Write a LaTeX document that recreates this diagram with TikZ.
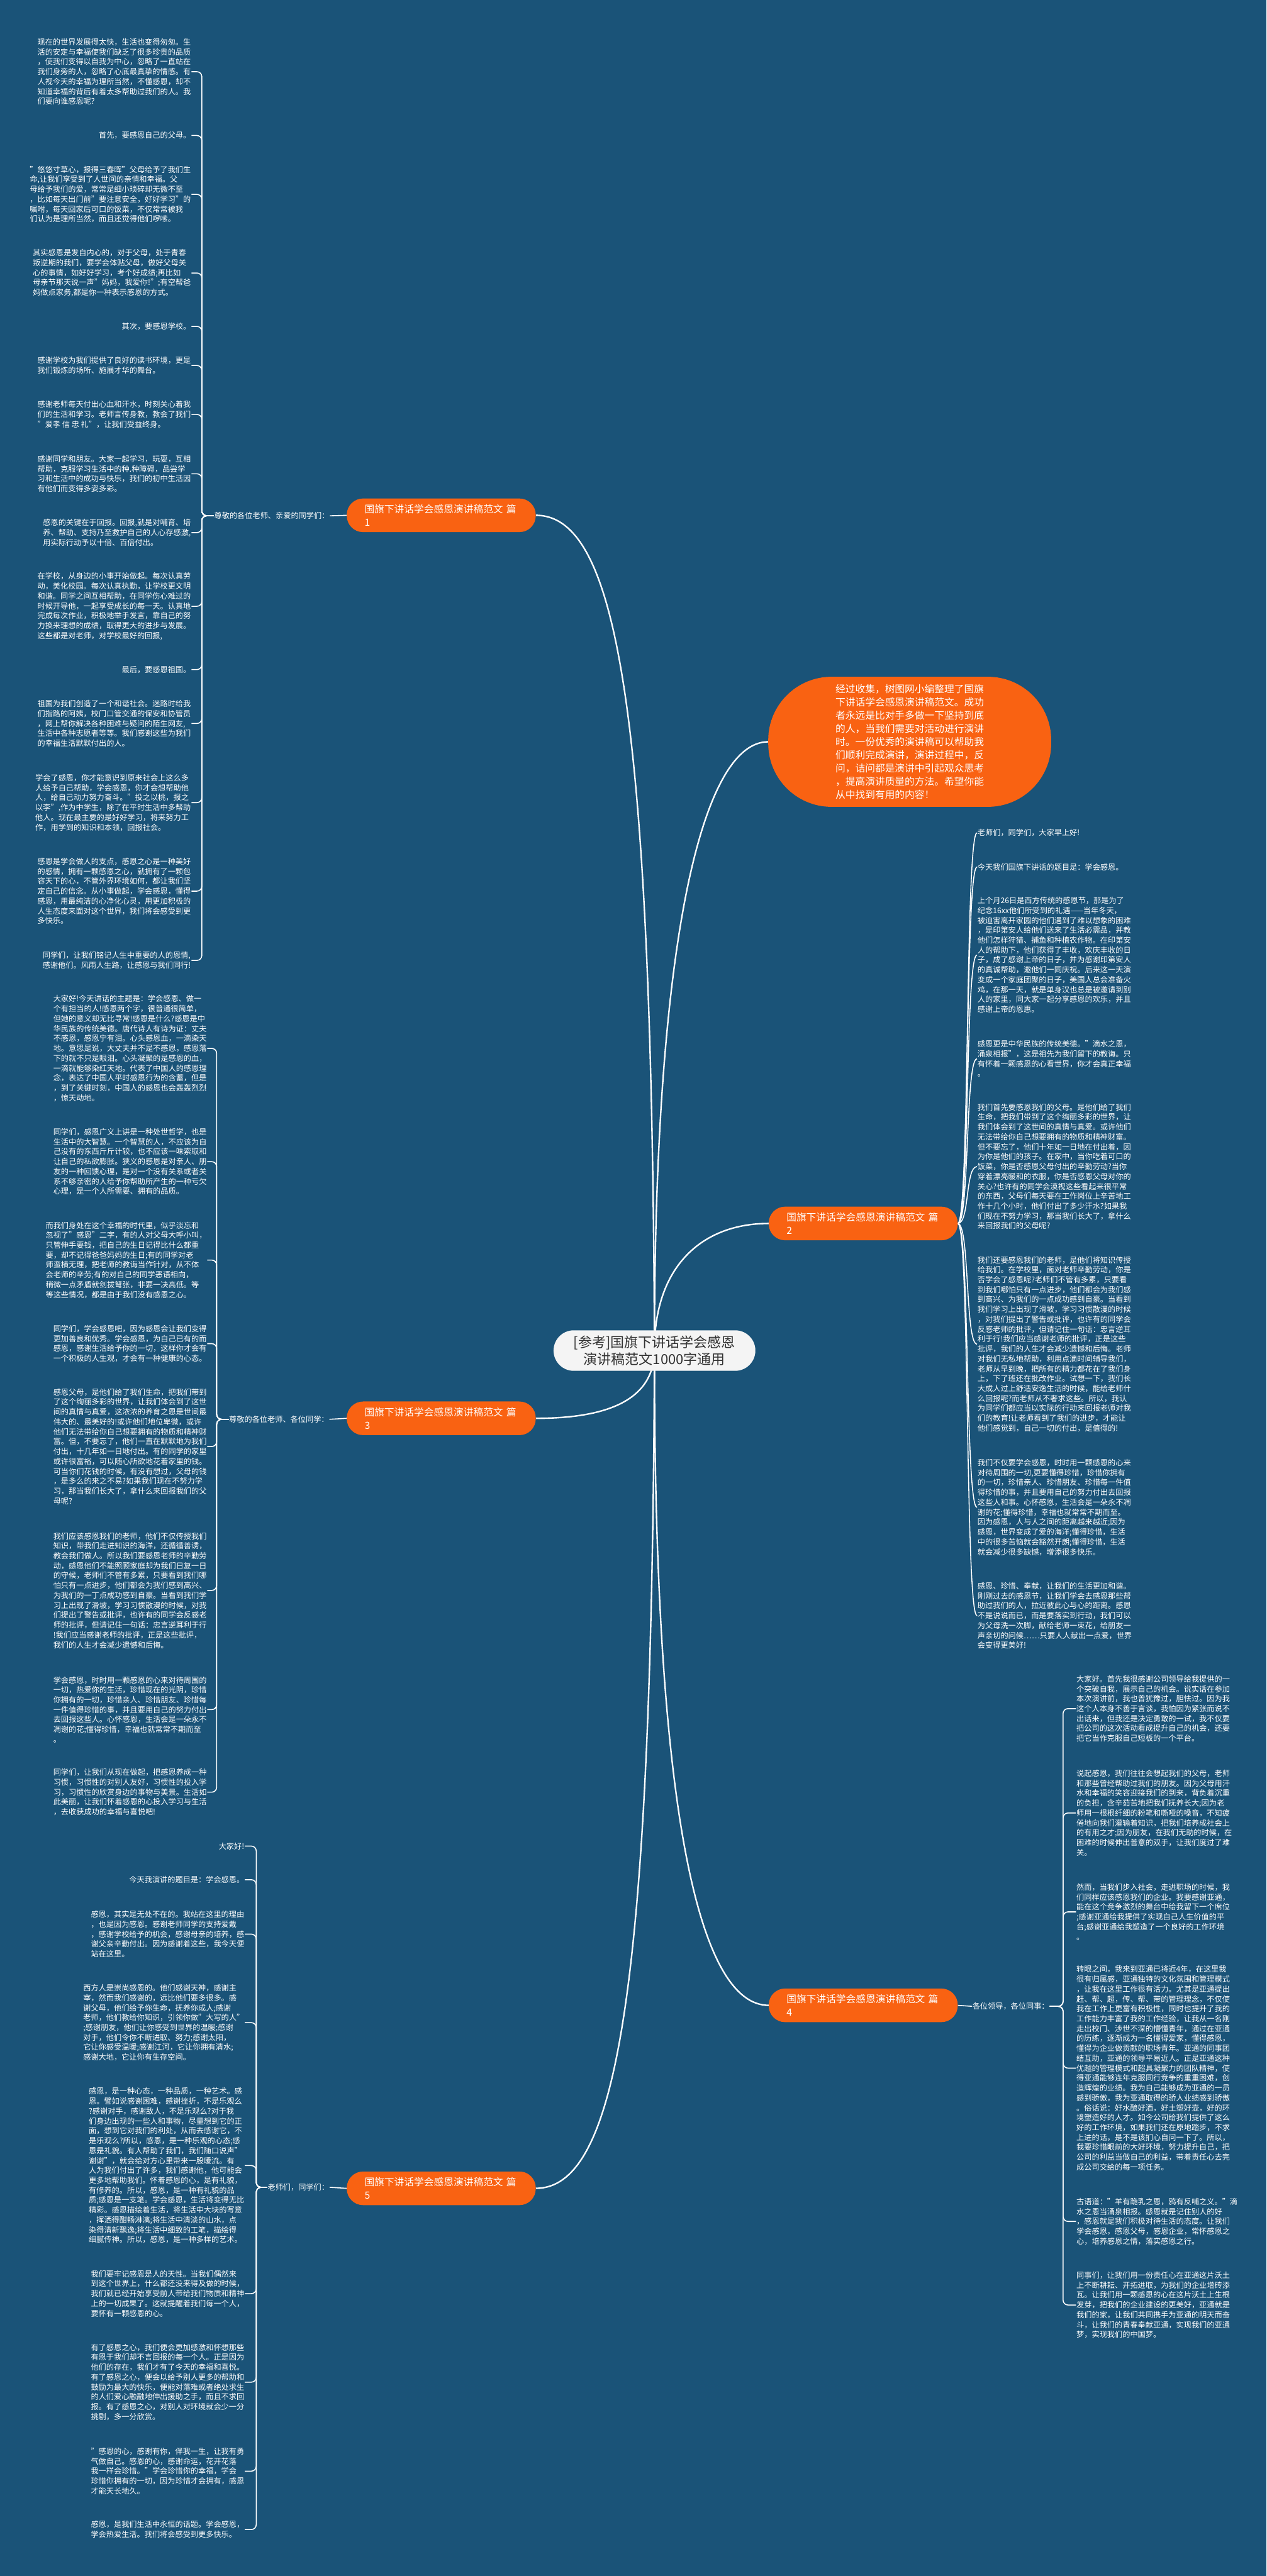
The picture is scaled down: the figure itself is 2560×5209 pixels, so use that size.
\documentclass[tikz,border=0pt]{standalone}
\usepackage{fontspec}
\setmainfont{Noto Sans CJK SC}
\definecolor{shutublue}{RGB}{26,83,120}
\definecolor{shutuorange}{RGB}{249,98,18}
\definecolor{rootfill}{RGB}{244,244,244}
\definecolor{roottext}{RGB}{51,51,51}
\pgfdeclarelayer{back}
\pgfsetlayers{back,main}
\tikzset{
  para/.style={text=white, font=\fontsize{15.5}{20}\selectfont, align=left, inner sep=1pt},
  paraL/.style={para, anchor=east},
  paraR/.style={para, anchor=west},
  pian/.style={fill=shutuorange, text=white, rounded corners=33pt,
    font=\fontsize{20}{27}\selectfont, align=left, text width=310pt,
    inner xsep=36pt, inner ysep=4pt, minimum height=68pt},
  intro/.style={fill=shutuorange, text=white, rounded corners=128pt,
    font=\fontsize{20}{26.7}\selectfont, align=left, text width=300pt,
    inner xsep=136pt, minimum height=263pt},
  title/.style={fill=rootfill, text=roottext, rounded corners=41pt,
    font=\fontsize{28}{35}\selectfont, align=center,
    minimum width=408pt, minimum height=82pt},
  limb/.style={draw=white, line width=3pt},
  twig/.style={draw=white, line width=2pt},
  brace/.style={draw=white, line width=2pt, rounded corners=10pt}
}
\begin{document}
\begin{tikzpicture}[x=1pt, y=-1pt]
  \useasboundingbox (0,0) rectangle (2560,5209);
  % centre and main branches
  \node[title] (root) at (1323,2731) {{[}参考{]}国旗下讲话学会感恩\\演讲稿范文1000字通用};
  \node[intro] (intro) at (1839,1500) {经过收集，树图网小编整理了国旗\\
    下讲话学会感恩演讲稿范文。成功\\
    者永远是比对手多做一下坚持到底\\
    的人，当我们需要对活动进行演讲\\
    时。一份优秀的演讲稿可以帮助我\\
    们顺利完成演讲，演讲过程中，反\\
    问，诘问都是演讲中引起观众思考\\
    ，提高演讲质量的方法。希望你能\\
    从中找到有用的内容！};
  \node[pian] (p1) at (892,1042) {国旗下讲话学会感恩演讲稿范文 篇\\1};
  \node[pian] (p2) at (1745,2474) {国旗下讲话学会感恩演讲稿范文 篇\\2};
  \node[pian] (p3) at (892,2868) {国旗下讲话学会感恩演讲稿范文 篇\\3};
  \node[pian] (p4) at (1745,4055) {国旗下讲话学会感恩演讲稿范文 篇\\4};
  \node[pian] (p5) at (892,4425) {国旗下讲话学会感恩演讲稿范文 篇\\5};
  % greetings
  \node[para, anchor=west] (l1) at (432,1043) {尊敬的各位老师、亲爱的同学们：};
  \node[para, anchor=west] (l3) at (462,2870) {尊敬的各位老师、各位同学：};
  \node[para, anchor=west] (l5) at (540,4423) {老师们，同学们：};
  \node[para, anchor=east] (l4) at (2122,4057) {各位领导，各位同事：};

  % branch 1
  \node[paraL] (a1) at (387,145) {现在的世界发展得太快，生活也变得匆匆。生\\
    活的安定与幸福使我们缺乏了很多珍贵的品质\\
    ，使我们变得以自我为中心，忽略了一直站在\\
    我们身旁的人，忽略了心底最真挚的情感。有\\
    人视今天的幸福为理所当然，不懂感恩，却不\\
    知道幸福的背后有着太多帮助过我们的人。我\\
    们要向谁感恩呢?};
  \node[paraL] (a2) at (387,274) {首先，要感恩自己的父母。};
  \node[paraL] (a3) at (387,393) {"悠悠寸草心，报得三春晖"父母给予了我们生\\
    命,让我们享受到了人世间的亲情和幸福。父\\
    母给予我们的爱，常常是细小琐碎却无微不至\\
    ，比如每天出门前"要注意安全，好好学习"的\\
    嘱咐，每天回家后可口的饭菜，不仅常常被我\\
    们认为是理所当然，而且还觉得他们啰嗦。};
  \node[paraL] (a4) at (387,552) {其实感恩是发自内心的，对于父母，处于青春\\
    叛逆期的我们，要学会体贴父母，做好父母关\\
    心的事情，如好好学习，考个好成绩;再比如\\
    母亲节那天说一声"妈妈，我爱你!";有空帮爸\\
    妈做点家务,都是你一种表示感恩的方式。};
  \node[paraL] (a5) at (387,660) {其次，要感恩学校。};
  \node[paraL] (a6) at (387,739) {感谢学校为我们提供了良好的读书环境，更是\\
    我们锻炼的场所、施展才华的舞台。};
  \node[paraL] (a7) at (387,838) {感谢老师每天付出心血和汗水，时刻关心着我\\
    们的生活和学习。老师言传身教，教会了我们\\
    "爱孝 信 忠 礼"，让我们受益终身。};
  \node[paraL] (a8) at (387,958) {感谢同学和朋友。大家一起学习，玩耍，互相\\
    帮助，克服学习生活中的种.种障碍，品尝学\\
    习和生活中的成功与快乐，我们的初中生活因\\
    有他们而变得多姿多彩。};
  \node[paraL] (a9) at (387,1077) {感恩的关键在于回报。回报,就是对哺育、培\\
    养、帮助、支持乃至救护自己的人心存感激,\\
    用实际行动予以十倍、百倍付出。};
  \node[paraL] (a10) at (387,1226) {在学校，从身边的小事开始做起。每次认真劳\\
    动，美化校园。每次认真执勤，让学校更文明\\
    和谐。同学之间互相帮助，在同学伤心难过的\\
    时候开导他，一起享受成长的每一天。认真地\\
    完成每次作业，积极地举手发言，靠自己的努\\
    力换来理想的成绩，取得更大的进步与发展。\\
    这些都是对老师，对学校最好的回报,};
  \node[paraL] (a11) at (387,1354) {最后，要感恩祖国。};
  \node[paraL] (a12) at (387,1463) {祖国为我们创造了一个和谐社会。迷路时给我\\
    们指路的阿姨，校门口管交通的保安和协管员\\
    ，网上帮你解决各种困难与疑问的陌生网友,\\
    生活中各种志愿者等等。我们感谢这些为我们\\
    的幸福生活默默付出的人。};
  \node[paraL] (a13) at (387,1623) {学会了感恩，你才能意识到原来社会上这么多\\
    人给予自己帮助，学会感恩，你才会想帮助他\\
    人，给自己动力努力奋斗。"投之以桃，报之\\
    以李",作为中学生，除了在平时生活中多帮助\\
    他人。现在最主要的是好好学习，将来努力工\\
    作，用学到的知识和本领，回报社会。};
  \node[paraL] (a14) at (387,1802) {感恩是学会做人的支点，感恩之心是一种美好\\
    的感情，拥有一颗感恩之心，就拥有了一颗包\\
    容天下的心，不管外界环境如何，都让我们坚\\
    定自己的信念。从小事做起，学会感恩，懂得\\
    感恩，用最纯洁的心净化心灵，用更加积极的\\
    人生态度来面对这个世界，我们将会感受到更\\
    多快乐。};
  \node[paraL] (a15) at (387,1942) {同学们，让我们铭记人生中重要的人的恩情,\\
    感谢他们。风雨人生路，让感恩与我们同行!};

  % branch 3
  \node[paraL] (c1) at (419,2120) {大家好!今天讲话的主题是：学会感恩、做一\\
    个有担当的人!感恩两个字，很普通很简单，\\
    但她的意义却无比寻常!感恩是什么?感恩是中\\
    华民族的传统美德。唐代诗人有诗为证：丈夫\\
    不感恩，感恩宁有泪。心头感恩血，一滴染天\\
    地。意思是说，大丈夫并不是不感恩，感恩落\\
    下的就不只是眼泪。心头凝聚的是感恩的血，\\
    一滴就能够染红天地。代表了中国人的感恩理\\
    念，表达了中国人平时感恩行为的含蓄，但是\\
    ，到了关键时刻，中国人的感恩也会轰轰烈烈\\
    ，惊天动地。};
  \node[paraL] (c2) at (419,2349) {同学们，感恩广义上讲是一种处世哲学，也是\\
    生活中的大智慧。一个智慧的人，不应该为自\\
    己没有的东西斤斤计较，也不应该一味索取和\\
    让自己的私欲膨胀。狭义的感恩是对亲人、朋\\
    友的一种回馈心理，是对一个没有关系或者关\\
    系不够亲密的人给予你帮助所产生的一种亏欠\\
    心理，是一个人所需要、拥有的品质。};
  \node[paraL] (c3) at (419,2548) {而我们身处在这个幸福的时代里，似乎淡忘和\\
    忽视了"感恩"二字，有的人对父母大呼小叫，\\
    只管伸手要钱，把自己的生日记得比什么都重\\
    要，却不记得爸爸妈妈的生日;有的同学对老\\
    师蛮横无理，把老师的教诲当作针对，从不体\\
    会老师的辛劳;有的对自己的同学恶语相向，\\
    稍微一点矛盾就剑拔弩张，非要一决高低。等\\
    等这些情况，都是由于我们没有感恩之心。};
  \node[paraL] (c4) at (419,2717) {同学们，学会感恩吧，因为感恩会让我们变得\\
    更加善良和优秀。学会感恩，为自己已有的而\\
    感恩，感谢生活给予你的一切，这样你才会有\\
    一个积极的人生观，才会有一种健康的心态。};
  \node[paraL] (c5) at (419,2925) {感恩父母，是他们给了我们生命，把我们带到\\
    了这个绚丽多彩的世界，让我们体会到了这世\\
    间的真情与真爱，这浓浓的养育之恩是世间最\\
    伟大的、最美好的!或许他们地位卑微，或许\\
    他们无法带给你自己想要拥有的物质和精神财\\
    富。但，不要忘了，他们一直在默默地为我们\\
    付出，十几年如一日地付出。有的同学的家里\\
    或许很富裕，可以随心所欲地花着家里的钱。\\
    可当你们花钱的时候，有没有想过，父母的钱\\
    ，是多么的来之不易?如果我们现在不努力学\\
    习，那当我们长大了，拿什么来回报我们的父\\
    母呢?};
  \node[paraL] (c6) at (419,3216) {我们应该感恩我们的老师，他们不仅传授我们\\
    知识，带我们走进知识的海洋，还循循善诱，\\
    教会我们做人。所以我们要感恩老师的辛勤劳\\
    动，感恩他们不能照顾家庭却为我们日复一日\\
    的守候，老师们不管有多累，只要看到我们哪\\
    怕只有一点进步，他们都会为我们感到高兴、\\
    为我们的一丁点成功感到自豪。当看到我们学\\
    习上出现了滑坡，学习习惯散漫的时候，对我\\
    们提出了警告或批评，也许有的同学会反感老\\
    师的批评，但请记住一句话：忠言逆耳利于行\\
    !我们应当感谢老师的批评，正是这些批评，\\
    我们的人生才会减少遗憾和后悔。};
  \node[paraL] (c7) at (419,3457) {学会感恩，时时用一颗感恩的心来对待周围的\\
    一切，热爱你的生活，珍惜现在的光阴，珍惜\\
    你拥有的一切，珍惜亲人、珍惜朋友、珍惜每\\
    一件值得珍惜的事，并且要用自己的努力付出\\
    去回报这些人。心怀感恩，生活会是一朵永不\\
    凋谢的花;懂得珍惜，幸福也就常常不期而至\\
    。};
  \node[paraL] (c8) at (419,3624) {同学们，让我们从现在做起，把感恩养成一种\\
    习惯，习惯性的对别人友好，习惯性的投入学\\
    习，习惯性的欣赏身边的事物与美景。生活如\\
    此美丽，让我们怀着感恩的心投入学习与生活\\
    ，去收获成功的幸福与喜悦吧!};

  % branch 5
  \node[paraL] (e1) at (495,3733) {大家好!};
  \node[paraL] (e2) at (495,3801) {今天我演讲的题目是：学会感恩。};
  \node[paraL] (e3) at (495,3911) {感恩，其实是无处不在的。我站在这里的理由\\
    ，也是因为感恩。感谢老师同学的支持爱戴\\
    ，感谢学校给予的机会，感谢母亲的培养，感\\
    谢父亲辛勤付出。因为感谢着这些，我今天便\\
    站在这里。};
  \node[paraL] (e4) at (495,4090) {西方人是崇尚感恩的。他们感谢天神，感谢主\\
    宰，然而我们感谢的，远比他们要多很多。感\\
    谢父母，他们给予你生命，抚养你成人;感谢\\
    老师，他们教给你知识，引领你做"大写的人"\\
    ;感谢朋友，他们让你感受到世界的温暖;感谢\\
    对手，他们令你不断进取、努力;感谢太阳，\\
    它让你感受温暖;感谢江河，它让你拥有清水;\\
    感谢大地，它让你有生存空间。};
  \node[paraL] (e5) at (495,4379) {感恩，是一种心态，一种品质，一种艺术。感\\
    恩。譬如说感谢困难，感谢挫折，不是乐观么\\
    ?感谢对手，感谢敌人，不是乐观么?对于我\\
    们身边出现的一些人和事物，尽量想到它的正\\
    面，想到它对我们的利处，从而去感谢它，不\\
    是乐观么?所以，感恩，是一种乐观的心态;感\\
    恩是礼貌。有人帮助了我们，我们随口说声"\\
    谢谢"，就会给对方心里带来一股暖流。有\\
    人为我们付出了许多，我们感谢他，他可能会\\
    更多地帮助我们。怀着感恩的心，是有礼貌，\\
    有修养的。所以，感恩，是一种有礼貌的品\\
    质;感恩是一支笔。学会感恩，生活将变得无比\\
    精彩。感恩描绘着生活，将生活中大块的写意\\
    ，挥洒得酣畅淋漓;将生活中清淡的山水，点\\
    染得清新飘逸;将生活中细致的工笔，描绘得\\
    细腻传神。所以，感恩，是一种多样的艺术。};
  \node[paraL] (e6) at (495,4638) {我们要牢记感恩是人的天性。当我们偶然来\\
    到这个世界上，什么都还没来得及做的时候，\\
    我们就已经开始享受前人带给我们物质和精神\\
    上的一切成果了。这就提醒着我们每一个人，\\
    要怀有一颗感恩的心。};
  \node[paraL] (e7) at (495,4817) {有了感恩之心，我们便会更加感激和怀想那些\\
    有恩于我们却不言回报的每一个人。正是因为\\
    他们的存在，我们才有了今天的幸福和喜悦。\\
    有了感恩之心，便会以给予别人更多的帮助和\\
    鼓励为最大的快乐，便能对落难或者绝处求生\\
    的人们爱心融融地伸出援助之手，而且不求回\\
    报。有了感恩之心，对别人对环境就会少一分\\
    挑剔，多一分欣赏。};
  \node[paraL] (e8) at (495,4997) {"感恩的心，感谢有你，伴我一生，让我有勇\\
    气做自己。感恩的心，感谢命运，花开花落\\
    我一样会珍惜。"学会珍惜你的幸福，学会\\
    珍惜你拥有的一切，因为珍惜才会拥有，感恩\\
    才能天长地久。};
  \node[paraL] (e9) at (495,5115) {感恩，是我们生活中永恒的话题。学会感恩，\\
    学会热爱生活。我们将会感受到更多快乐。};

  % branch 2
  \node[paraR] (b1) at (1975,1684) {老师们，同学们，大家早上好!};
  \node[paraR] (b2) at (1975,1753) {今天我们国旗下讲话的题目是：学会感恩。};
  \node[paraR] (b3) at (1975,1931) {上个月26日是西方传统的感恩节，那是为了\\
    纪念16xx他们所受到的礼遇——当年冬天，\\
    被迫害离开家园的他们遇到了难以想象的困难\\
    ，是印第安人给他们送来了生活必需品，并教\\
    他们怎样狩猎、捕鱼和种植农作物。在印第安\\
    人的帮助下，他们获得了丰收，欢庆丰收的日\\
    子，成了感谢上帝的日子，并为感谢印第安人\\
    的真诚帮助，邀他们一同庆祝。后来这一天演\\
    变成一个家庭团聚的日子，美国人总会准备火\\
    鸡，在那一天，就是单身汉也总是被邀请到别\\
    人的家里，同大家一起分享感恩的欢乐，并且\\
    感谢上帝的恩惠。};
  \node[paraR] (b4) at (1975,2141) {感恩更是中华民族的传统美德。"滴水之恩，\\
    涌泉相报"，这是祖先为我们留下的教诲。只\\
    有怀着一颗感恩的心看世界，你才会真正幸福\\
    。};
  \node[paraR] (b5) at (1975,2359) {我们首先要感恩我们的父母。是他们给了我们\\
    生命，把我们带到了这个绚丽多彩的世界，让\\
    我们体会到了这世间的真情与真爱。或许他们\\
    无法带给你自己想要拥有的物质和精神财富。\\
    但不要忘了，他们十年如一日地在付出着，因\\
    为你是他们的孩子。在家中，当你吃着可口的\\
    饭菜，你是否感恩父母付出的辛勤劳动?当你\\
    穿着漂亮暖和的衣服，你是否感恩父母对你的\\
    关心?也许有的同学会漠视这些看起来很平常\\
    的东西，父母们每天要在工作岗位上辛苦地工\\
    作十几个小时，他们付出了多少汗水?如果我\\
    们现在不努力学习，那当我们长大了，拿什么\\
    来回报我们的父母呢?};
  \node[paraR] (b6) at (1975,2718) {我们还要感恩我们的老师，是他们将知识传授\\
    给我们。在学校里，面对老师辛勤劳动，你是\\
    否学会了感恩呢?老师们不管有多累，只要看\\
    到我们哪怕只有一点进步，他们都会为我们感\\
    到高兴、为我们的一点成功感到自豪。当看到\\
    我们学习上出现了滑坡，学习习惯散漫的时候\\
    ，对我们提出了警告或批评，也许有的同学会\\
    反感老师的批评，但请记住一句话：忠言逆耳\\
    利于行!我们应当感谢老师的批评，正是这些\\
    批评，我们的人生才会减少遗憾和后悔。老师\\
    对我们无私地帮助，利用点滴时间辅导我们，\\
    老师从早到晚，把所有的精力都花在了我们身\\
    上，下了班还在批改作业。试想一下，我们长\\
    大成人过上舒适安逸生活的时候，能给老师什\\
    么回报呢?而老师从不奢求这些。所以，我认\\
    为同学们都应当以实际的行动来回报老师对我\\
    们的教育!让老师看到了我们的进步，才能让\\
    他们感觉到，自己一切的付出，是值得的!};
  \node[paraR] (b7) at (1975,3048) {我们不仅要学会感恩，时时用一颗感恩的心来\\
    对待周围的一切,更要懂得珍惜，珍惜你拥有\\
    的一切，珍惜亲人、珍惜朋友、珍惜每一件值\\
    得珍惜的事，并且要用自己的努力付出去回报\\
    这些人和事。心怀感恩，生活会是一朵永不凋\\
    谢的花;懂得珍惜，幸福也就常常不期而至。\\
    因为感恩，人与人之间的距离越来越近;因为\\
    感恩，世界变成了爱的海洋;懂得珍惜，生活\\
    中的很多苦恼就会豁然开朗;懂得珍惜，生活\\
    就会减少很多缺憾，增添很多快乐。};
  \node[paraR] (b8) at (1975,3267) {感恩、珍惜、奉献，让我们的生活更加和谐。\\
    刚刚过去的感恩节，让我们学会去感恩那些帮\\
    助过我们的人，拉近彼此心与心的距离。感恩\\
    不是说说而已，而是要落实到行动，我们可以\\
    为父母洗一次脚，献给老师一束花，给朋友一\\
    声亲切的问候……只要人人献出一点爱，世界\\
    会变得更美好!};

  % branch 4
  \node[paraR] (d1) at (2175,3455) {大家好。首先我很感谢公司领导给我提供的一\\
    个突破自我，展示自己的机会。说实话在参加\\
    本次演讲前，我也曾犹豫过，胆怯过。因为我\\
    这个人本身不善于言谈，我怕因为紧张而说不\\
    出话来，但我还是决定勇敢的一试，我不仅要\\
    把公司的这次活动看成提升自己的机会，还要\\
    把它当作克服自己短板的一个平台。};
  \node[paraR] (d2) at (2175,3666) {说起感恩，我们往往会想起我们的父母，老师\\
    和那些曾经帮助过我们的朋友。因为父母用汗\\
    水和幸福的笑容迎接我们的到来，背负着沉重\\
    的负担，含辛茹苦地把我们抚养长大;因为老\\
    师用一根根纤细的粉笔和嘶哑的嗓音，不知疲\\
    倦地向我们灌输着知识，把我们培养成社会上\\
    的有用之才;因为朋友，在我们无助的时候，在\\
    困难的时候伸出善意的双手，让我们度过了难\\
    关。};
  \node[paraR] (d3) at (2175,3866) {然而，当我们步入社会，走进职场的时候，我\\
    们同样应该感恩我们的企业。我要感谢亚通，\\
    能在这个竞争激烈的舞台中给我留下一个席位\\
    ;感谢亚通给我提供了实现自己人生价值的平\\
    台;感谢亚通给我塑造了一个良好的工作环境\\
    。};
  \node[paraR] (d4) at (2175,4182) {转眼之间，我来到亚通已将近4年，在这里我\\
    很有归属感，亚通独特的文化氛围和管理模式\\
    ，让我在这里工作很有活力。尤其是亚通提出\\
    赶、帮、超，传、帮、带的管理理念，不仅使\\
    我在工作上更富有积极性，同时也提升了我的\\
    工作能力丰富了我的工作经验，让我从一名刚\\
    走出校门、涉世不深的懵懂青年，通过在亚通\\
    的历练，逐渐成为一名懂得爱家，懂得感恩，\\
    懂得为企业做贡献的职场青年。亚通的同事团\\
    结互助，亚通的领导平易近人。正是亚通这种\\
    优越的管理模式和超具凝聚力的团队精神，使\\
    得亚通能够连年克服同行竞争的重重困难，创\\
    造辉煌的业绩。我为自己能够成为亚通的一员\\
    感到骄傲，我为亚通取得的骄人业绩感到骄傲\\
    。俗话说：好水酿好酒，好土塑好壶，好的环\\
    境塑造好的人才。如今公司给我们提供了这么\\
    好的工作环境，如果我们还在原地踏步，不求\\
    上进的话，是不是该扪心自问一下了。所以，\\
    我要珍惜眼前的大好环境，努力提升自己，把\\
    公司的利益当做自己的利益，带着责任心去完\\
    成公司交给的每一项任务。};
  \node[paraR] (d5) at (2175,4492) {古语道："羊有跪乳之恩，鸦有反哺之义。"滴\\
    水之恩当涌泉相报。感恩就是记住别人的好\\
    ，感恩就是我们积极对待生活的态度。让我们\\
    学会感恩，感恩父母，感恩企业，常怀感恩之\\
    心，培养感恩之情，落实感恩之行。};
  \node[paraR] (d6) at (2175,4661) {同事们，让我们用一份责任心在亚通这片沃土\\
    上不断耕耘、开拓进取，为我们的企业增砖添\\
    瓦。让我们用一颗感恩的心在这片沃土上生根\\
    发芽，把我们的企业建设的更美好，亚通就是\\
    我们的家，让我们共同携手为亚通的明天而奋\\
    斗，让我们的青春奉献亚通，实现我们的亚通\\
    梦，实现我们的中国梦。};

  \begin{pgfonlayer}{back}
    \fill[shutublue] (0,0) rectangle (2560,5209);
    % root to branches
    \draw[limb] (root.center) .. controls (1318,1450) and (1250,1042) .. (p1.east);
    \draw[limb] (root.center) .. controls (1322,1900) and (1420,1500) .. (intro.west);
    \draw[limb] (root.center) .. controls (1322,2560) and (1420,2474) .. (p2.west);
    \draw[limb] (root.center) .. controls (1322,2830) and (1230,2868) .. (p3.east);
    \draw[limb] (root.center) .. controls (1322,3700) and (1420,4055) .. (p4.west);
    \draw[limb] (root.center) .. controls (1318,4010) and (1250,4425) .. (p5.east);
    % branches to greetings
    \draw[twig] (p1.west) -- (l1.east);
    \draw[twig] (p3.west) -- (l3.east);
    \draw[twig] (p5.west) -- (l5.east);
    \draw[twig] (p4.east) -- (l4.west);
    % greetings to paragraphs
    \foreach \i in {1,...,15} \draw[brace] (l1.west) -- ++(-24,0) |- (a\i.east);
    \foreach \i in {1,...,8} \draw[brace] (l3.west) -- ++(-24,0) |- (c\i.east);
    \foreach \i in {1,...,9} \draw[brace] (l5.west) -- ++(-22,0) |- (e\i.east);
    \foreach \i in {1,...,6} \draw[brace] (l4.east) -- ++(27,0) |- (d\i.west);
    \foreach \i in {1,...,8} \draw[twig] (p2.east) .. controls +(24,0) and +(-24,0) .. (b\i.west);
  \end{pgfonlayer}
\end{tikzpicture}
\end{document}
